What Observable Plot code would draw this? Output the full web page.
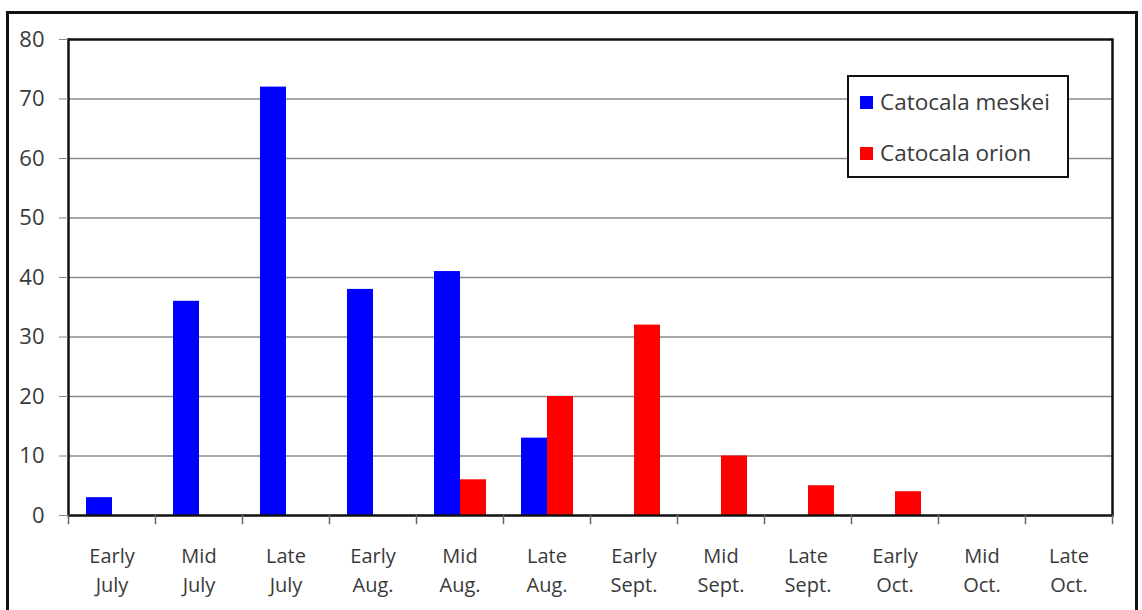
<!DOCTYPE html>
<html>
<head>
<meta charset="utf-8">
<script src="https://cdn.jsdelivr.net/npm/d3@7"></script>
<script src="https://cdn.jsdelivr.net/npm/@observablehq/plot@0.6"></script>
<style>
  html, body { margin: 0; padding: 0; background: #fff; overflow: hidden; width: 1142px; height: 610px; }
  #wrap { position: relative; width: 1142px; height: 610px; font-family: "Open Sans", Lato, sans-serif; }
  #outer { position: absolute; left: 6px; top: 11px; width: 1132px; height: 700px; border: 3px solid #111; box-sizing: border-box; }
  #chart { position: absolute; left: 0; top: 0; }
  #legend { position: absolute; left: 847px; top: 75px; width: 222px; height: 103px; box-sizing: border-box;
            border: 2.5px solid #111; background: #fff; font-size: 22.5px; color: #3a3a3a; }
  .item { position: absolute; left: 11px; display: flex; align-items: center; line-height: 1; }
  .sw { width: 13px; height: 13px; margin-right: 7px; }
</style>
</head>
<body>
<div id="wrap">
  <div id="outer"></div>
  <div id="chart"></div>
  <div id="legend"></div>
</div>
<script>
const periods = ["Early July", "Mid July", "Late July", "Early Aug.", "Mid Aug.", "Late Aug.",
                 "Early Sept.", "Mid Sept.", "Late Sept.", "Early Oct.", "Mid Oct.", "Late Oct."];
const species = ["Catocala meskei", "Catocala orion"];
const meskei = [3, 36, 72, 38, 41, 13, 0, 0, 0, 0, 0, 0];
const orion  = [0, 0, 0, 0, 6, 20, 32, 10, 5, 4, 0, 0];
const colors = ["#0000ff", "#ff0000"];
const yTicks = [0, 10, 20, 30, 40, 50, 60, 70, 80];
const gridTicks = [10, 20, 30, 40, 50, 60, 70];

const data = periods.flatMap((p, i) => [
  {period: p, species: species[0], count: meskei[i]},
  {period: p, species: species[1], count: orion[i]}
]);

const W = 1142, H = 610, mT = 39, mB = 95, mL = 66, mR = 29;
const innerH = H - mT - mB;

const chart = Plot.plot({
  width: W, height: H,
  marginTop: mT, marginBottom: mB, marginLeft: mL, marginRight: mR,
  style: {fontFamily: "'Open Sans', Lato, sans-serif", background: "transparent"},
  fx: {domain: periods, padding: 0, label: null, axis: null},
  x: {domain: species, paddingInner: 0, paddingOuter: 0.645, axis: null},
  y: {domain: [0, 80], axis: null},
  color: {domain: species, range: colors},
  marks: [
    Plot.ruleY(gridTicks, {stroke: "#8a8a8a", strokeWidth: 1.5}),
    Plot.barY(data, {fx: "period", x: "species", y: "count", fill: "species"}),
    Plot.ruleY([0, 80], {stroke: "#111", strokeWidth: 2.5}),
    Plot.frame({anchor: "left", facetAnchor: "left", stroke: "#111", strokeWidth: 2.5}),
    Plot.frame({anchor: "right", facetAnchor: "right", stroke: "#111", strokeWidth: 2.5}),
    Plot.frame({anchor: "left", insetTop: innerH, insetBottom: -8, stroke: "#666", strokeWidth: 1.5}),
    Plot.frame({anchor: "right", facetAnchor: "right", insetTop: innerH, insetBottom: -8, stroke: "#666", strokeWidth: 1.5}),
    Plot.axisY({ticks: yTicks, tickSize: 9, tickPadding: 15, fontSize: 22, fill: "#3a3a3a", stroke: "#888", label: null}),
    Plot.axisFx({anchor: "bottom", tickSize: 0, tickPadding: 27, fontSize: 20, lineHeight: 1.45, fill: "#3a3a3a",
                 label: null, tickFormat: d => d.replace(" ", "\n")})
  ]
});
document.getElementById("chart").appendChild(chart);

const legend = document.getElementById("legend");
species.forEach((s, i) => {
  const item = document.createElement("div");
  item.className = "item";
  item.style.top = (14 + i * 51) + "px";
  const sw = document.createElement("div");
  sw.className = "sw";
  sw.style.background = colors[i];
  const t = document.createElement("span");
  t.textContent = s;
  item.appendChild(sw);
  item.appendChild(t);
  legend.appendChild(item);
});
</script>
</body>
</html>
